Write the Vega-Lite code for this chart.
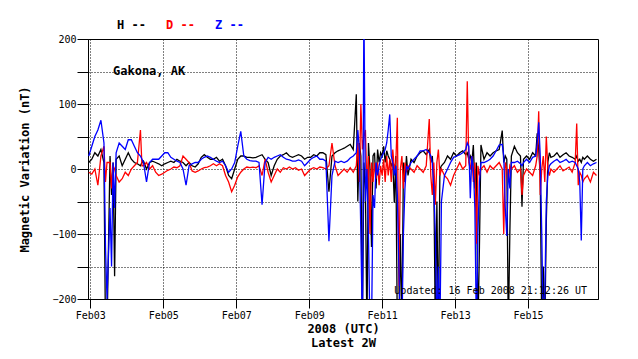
{
  "$schema": "https://vega.github.io/schema/vega-lite/v6.json",
  "width": 510,
  "height": 260,
  "autosize": {"type": "none"},
  "padding": {"left": 88, "top": 39, "right": 40, "bottom": 60},
  "background": "white",
  "config": {"view": {"stroke": "black", "strokeWidth": 1}},
  "title": {"text": "Updated: 16 Feb 2008 21:12:26 UT", "orient": "bottom", "anchor": "end", "frame": "group", "offset": 0, "dx": -11, "dy": -62, "font": "DejaVu Sans Mono", "fontSize": 10, "fontWeight": "normal", "color": "black"},
  "data": {
    "values": [
      {"t":"2008-02-02T23:00:00","H":10,"D":-5,"Z":20},
      {"t":"2008-02-03T01:00:00","H":15,"D":-8,"Z":35},
      {"t":"2008-02-03T03:00:00","H":25,"D":0,"Z":50},
      {"t":"2008-02-03T05:00:00","H":20,"D":-25,"Z":60},
      {"t":"2008-02-03T07:00:00","H":30,"D":20,"Z":75},
      {"t":"2008-02-03T09:00:00","H":10,"D":35,"Z":40},
      {"t":"2008-02-03T10:00:00","H":-250,"D":-20,"Z":-120},
      {"t":"2008-02-03T11:00:00","H":-250,"D":10,"Z":-200},
      {"t":"2008-02-03T13:00:00","H":20,"D":10,"Z":-60},
      {"t":"2008-02-03T14:00:00","H":-40,"D":-30,"Z":-150},
      {"t":"2008-02-03T15:00:00","H":10,"D":5,"Z":10},
      {"t":"2008-02-03T16:00:00","H":-165,"D":0,"Z":-60},
      {"t":"2008-02-03T17:00:00","H":15,"D":-10,"Z":25},
      {"t":"2008-02-03T19:00:00","H":20,"D":-20,"Z":40},
      {"t":"2008-02-03T21:00:00","H":5,"D":-15,"Z":35},
      {"t":"2008-02-03T23:00:00","H":15,"D":-5,"Z":30},
      {"t":"2008-02-04T01:00:00","H":25,"D":-10,"Z":45},
      {"t":"2008-02-04T03:00:00","H":15,"D":0,"Z":45},
      {"t":"2008-02-04T05:00:00","H":10,"D":5,"Z":35},
      {"t":"2008-02-04T07:00:00","H":8,"D":10,"Z":25},
      {"t":"2008-02-04T09:00:00","H":5,"D":60,"Z":20},
      {"t":"2008-02-04T10:00:00","H":10,"D":5,"Z":15},
      {"t":"2008-02-04T11:00:00","H":12,"D":5,"Z":10},
      {"t":"2008-02-04T13:00:00","H":0,"D":10,"Z":-20},
      {"t":"2008-02-04T15:00:00","H":10,"D":0,"Z":10},
      {"t":"2008-02-04T17:00:00","H":12,"D":5,"Z":15},
      {"t":"2008-02-04T19:00:00","H":10,"D":-5,"Z":15},
      {"t":"2008-02-04T21:00:00","H":8,"D":-10,"Z":15},
      {"t":"2008-02-04T23:00:00","H":5,"D":-8,"Z":20},
      {"t":"2008-02-05T01:00:00","H":8,"D":-5,"Z":25},
      {"t":"2008-02-05T03:00:00","H":10,"D":-2,"Z":25},
      {"t":"2008-02-05T05:00:00","H":12,"D":0,"Z":18},
      {"t":"2008-02-05T07:00:00","H":10,"D":3,"Z":15},
      {"t":"2008-02-05T09:00:00","H":15,"D":2,"Z":12},
      {"t":"2008-02-05T11:00:00","H":12,"D":5,"Z":10},
      {"t":"2008-02-05T13:00:00","H":10,"D":20,"Z":0},
      {"t":"2008-02-05T15:00:00","H":5,"D":15,"Z":-25},
      {"t":"2008-02-05T17:00:00","H":10,"D":10,"Z":5},
      {"t":"2008-02-05T19:00:00","H":5,"D":-3,"Z":8},
      {"t":"2008-02-05T21:00:00","H":3,"D":-5,"Z":10},
      {"t":"2008-02-05T23:00:00","H":8,"D":-3,"Z":10},
      {"t":"2008-02-06T01:00:00","H":18,"D":0,"Z":15},
      {"t":"2008-02-06T03:00:00","H":22,"D":2,"Z":18},
      {"t":"2008-02-06T05:00:00","H":18,"D":3,"Z":20},
      {"t":"2008-02-06T07:00:00","H":15,"D":5,"Z":18},
      {"t":"2008-02-06T09:00:00","H":15,"D":8,"Z":15},
      {"t":"2008-02-06T11:00:00","H":18,"D":5,"Z":12},
      {"t":"2008-02-06T13:00:00","H":12,"D":8,"Z":10},
      {"t":"2008-02-06T15:00:00","H":15,"D":5,"Z":12},
      {"t":"2008-02-06T17:00:00","H":5,"D":-10,"Z":5},
      {"t":"2008-02-06T19:00:00","H":-10,"D":-20,"Z":-5},
      {"t":"2008-02-06T21:00:00","H":-15,"D":-35,"Z":0},
      {"t":"2008-02-06T23:00:00","H":0,"D":-25,"Z":10},
      {"t":"2008-02-07T01:00:00","H":15,"D":-12,"Z":35},
      {"t":"2008-02-07T03:00:00","H":20,"D":-5,"Z":58},
      {"t":"2008-02-07T05:00:00","H":20,"D":0,"Z":20},
      {"t":"2008-02-07T07:00:00","H":18,"D":3,"Z":15},
      {"t":"2008-02-07T09:00:00","H":18,"D":2,"Z":13},
      {"t":"2008-02-07T11:00:00","H":17,"D":3,"Z":12},
      {"t":"2008-02-07T13:00:00","H":18,"D":2,"Z":12},
      {"t":"2008-02-07T15:00:00","H":20,"D":5,"Z":10},
      {"t":"2008-02-07T17:00:00","H":22,"D":-10,"Z":-55},
      {"t":"2008-02-07T19:00:00","H":15,"D":15,"Z":10},
      {"t":"2008-02-07T21:00:00","H":10,"D":-5,"Z":18},
      {"t":"2008-02-07T23:00:00","H":-10,"D":-20,"Z":15},
      {"t":"2008-02-08T01:00:00","H":5,"D":-10,"Z":18},
      {"t":"2008-02-08T03:00:00","H":15,"D":0,"Z":20},
      {"t":"2008-02-08T05:00:00","H":20,"D":-5,"Z":22},
      {"t":"2008-02-08T07:00:00","H":22,"D":2,"Z":18},
      {"t":"2008-02-08T09:00:00","H":25,"D":0,"Z":15},
      {"t":"2008-02-08T11:00:00","H":20,"D":3,"Z":14},
      {"t":"2008-02-08T13:00:00","H":18,"D":0,"Z":12},
      {"t":"2008-02-08T15:00:00","H":20,"D":2,"Z":12},
      {"t":"2008-02-08T17:00:00","H":22,"D":-2,"Z":14},
      {"t":"2008-02-08T19:00:00","H":20,"D":0,"Z":12},
      {"t":"2008-02-08T21:00:00","H":15,"D":-10,"Z":5},
      {"t":"2008-02-08T23:00:00","H":18,"D":-5,"Z":10},
      {"t":"2008-02-09T01:00:00","H":18,"D":0,"Z":15},
      {"t":"2008-02-09T03:00:00","H":22,"D":2,"Z":18},
      {"t":"2008-02-09T05:00:00","H":20,"D":0,"Z":20},
      {"t":"2008-02-09T07:00:00","H":25,"D":3,"Z":15},
      {"t":"2008-02-09T09:00:00","H":25,"D":2,"Z":15},
      {"t":"2008-02-09T11:00:00","H":22,"D":0,"Z":12},
      {"t":"2008-02-09T13:00:00","H":-35,"D":5,"Z":-111},
      {"t":"2008-02-09T15:00:00","H":20,"D":40,"Z":-10},
      {"t":"2008-02-09T17:00:00","H":25,"D":5,"Z":12},
      {"t":"2008-02-09T19:00:00","H":28,"D":-10,"Z":10},
      {"t":"2008-02-09T21:00:00","H":30,"D":-5,"Z":12},
      {"t":"2008-02-09T23:00:00","H":32,"D":0,"Z":10},
      {"t":"2008-02-10T01:00:00","H":35,"D":-5,"Z":12},
      {"t":"2008-02-10T03:00:00","H":38,"D":2,"Z":17},
      {"t":"2008-02-10T05:00:00","H":30,"D":-5,"Z":20},
      {"t":"2008-02-10T07:00:00","H":115,"D":5,"Z":25},
      {"t":"2008-02-10T08:00:00","H":-50,"D":40,"Z":60},
      {"t":"2008-02-10T09:00:00","H":40,"D":-20,"Z":30},
      {"t":"2008-02-10T10:00:00","H":20,"D":100,"Z":-100},
      {"t":"2008-02-10T11:00:00","H":-250,"D":30,"Z":-250},
      {"t":"2008-02-10T12:00:00","H":10,"D":50,"Z":250},
      {"t":"2008-02-10T13:00:00","H":-30,"D":60,"Z":-50},
      {"t":"2008-02-10T14:00:00","H":-250,"D":-30,"Z":0},
      {"t":"2008-02-10T15:00:00","H":40,"D":20,"Z":-100},
      {"t":"2008-02-10T16:00:00","H":0,"D":-100,"Z":-250},
      {"t":"2008-02-10T17:00:00","H":-120,"D":10,"Z":-250},
      {"t":"2008-02-10T18:00:00","H":20,"D":-20,"Z":-40},
      {"t":"2008-02-10T19:00:00","H":25,"D":10,"Z":-60},
      {"t":"2008-02-10T20:00:00","H":-30,"D":-15,"Z":10},
      {"t":"2008-02-10T21:00:00","H":30,"D":10,"Z":-10},
      {"t":"2008-02-10T22:00:00","H":10,"D":-25,"Z":5},
      {"t":"2008-02-10T23:00:00","H":25,"D":5,"Z":15},
      {"t":"2008-02-11T00:00:00","H":20,"D":-10,"Z":20},
      {"t":"2008-02-11T01:00:00","H":35,"D":15,"Z":25},
      {"t":"2008-02-11T02:00:00","H":10,"D":-20,"Z":30},
      {"t":"2008-02-11T03:00:00","H":28,"D":20,"Z":40},
      {"t":"2008-02-11T04:00:00","H":20,"D":-10,"Z":60},
      {"t":"2008-02-11T05:00:00","H":15,"D":15,"Z":84},
      {"t":"2008-02-11T06:00:00","H":5,"D":-20,"Z":20},
      {"t":"2008-02-11T07:00:00","H":10,"D":30,"Z":10},
      {"t":"2008-02-11T08:00:00","H":-52,"D":0,"Z":-10},
      {"t":"2008-02-11T09:00:00","H":20,"D":10,"Z":5},
      {"t":"2008-02-11T10:00:00","H":-250,"D":79,"Z":-40},
      {"t":"2008-02-11T11:00:00","H":-250,"D":-180,"Z":-150},
      {"t":"2008-02-11T12:00:00","H":-100,"D":0,"Z":-250},
      {"t":"2008-02-11T13:00:00","H":-250,"D":20,"Z":-250},
      {"t":"2008-02-11T14:00:00","H":10,"D":-30,"Z":-100},
      {"t":"2008-02-11T15:00:00","H":-20,"D":10,"Z":-30},
      {"t":"2008-02-11T16:00:00","H":20,"D":-5,"Z":5},
      {"t":"2008-02-11T17:00:00","H":-10,"D":5,"Z":0},
      {"t":"2008-02-11T19:00:00","H":15,"D":0,"Z":10},
      {"t":"2008-02-11T21:00:00","H":10,"D":-5,"Z":15},
      {"t":"2008-02-11T23:00:00","H":20,"D":5,"Z":20},
      {"t":"2008-02-12T01:00:00","H":25,"D":0,"Z":28},
      {"t":"2008-02-12T03:00:00","H":28,"D":-5,"Z":28},
      {"t":"2008-02-12T05:00:00","H":22,"D":5,"Z":30},
      {"t":"2008-02-12T07:00:00","H":30,"D":77,"Z":25},
      {"t":"2008-02-12T08:00:00","H":10,"D":-10,"Z":20},
      {"t":"2008-02-12T09:00:00","H":20,"D":-40,"Z":10},
      {"t":"2008-02-12T10:00:00","H":-20,"D":10,"Z":-30},
      {"t":"2008-02-12T11:00:00","H":-250,"D":-55,"Z":-100},
      {"t":"2008-02-12T12:00:00","H":-50,"D":10,"Z":-250},
      {"t":"2008-02-12T13:00:00","H":-250,"D":30,"Z":-150},
      {"t":"2008-02-12T14:00:00","H":0,"D":-10,"Z":-250},
      {"t":"2008-02-12T15:00:00","H":5,"D":0,"Z":-50},
      {"t":"2008-02-12T17:00:00","H":10,"D":-10,"Z":-10},
      {"t":"2008-02-12T19:00:00","H":20,"D":-15,"Z":0},
      {"t":"2008-02-12T21:00:00","H":15,"D":-25,"Z":10},
      {"t":"2008-02-12T23:00:00","H":25,"D":-10,"Z":18},
      {"t":"2008-02-13T01:00:00","H":20,"D":0,"Z":20},
      {"t":"2008-02-13T03:00:00","H":25,"D":10,"Z":22},
      {"t":"2008-02-13T05:00:00","H":28,"D":0,"Z":25},
      {"t":"2008-02-13T07:00:00","H":22,"D":5,"Z":30},
      {"t":"2008-02-13T08:00:00","H":25,"D":135,"Z":40},
      {"t":"2008-02-13T09:00:00","H":15,"D":10,"Z":35},
      {"t":"2008-02-13T10:00:00","H":20,"D":0,"Z":-45},
      {"t":"2008-02-13T11:00:00","H":10,"D":20,"Z":20},
      {"t":"2008-02-13T12:00:00","H":37,"D":-20,"Z":0},
      {"t":"2008-02-13T13:00:00","H":-30,"D":10,"Z":-60},
      {"t":"2008-02-13T14:00:00","H":10,"D":-115,"Z":-250},
      {"t":"2008-02-13T15:00:00","H":-250,"D":5,"Z":-100},
      {"t":"2008-02-13T16:00:00","H":-120,"D":-10,"Z":-20},
      {"t":"2008-02-13T17:00:00","H":37,"D":0,"Z":10},
      {"t":"2008-02-13T19:00:00","H":15,"D":5,"Z":10},
      {"t":"2008-02-13T21:00:00","H":25,"D":-5,"Z":12},
      {"t":"2008-02-13T23:00:00","H":20,"D":5,"Z":15},
      {"t":"2008-02-14T01:00:00","H":25,"D":0,"Z":20},
      {"t":"2008-02-14T03:00:00","H":28,"D":5,"Z":28},
      {"t":"2008-02-14T05:00:00","H":30,"D":10,"Z":37},
      {"t":"2008-02-14T07:00:00","H":59,"D":0,"Z":38},
      {"t":"2008-02-14T08:00:00","H":10,"D":-100,"Z":20},
      {"t":"2008-02-14T09:00:00","H":20,"D":10,"Z":-60},
      {"t":"2008-02-14T10:00:00","H":15,"D":0,"Z":-103},
      {"t":"2008-02-14T11:00:00","H":-250,"D":-20,"Z":0},
      {"t":"2008-02-14T12:00:00","H":-100,"D":5,"Z":-30},
      {"t":"2008-02-14T13:00:00","H":20,"D":0,"Z":10},
      {"t":"2008-02-14T15:00:00","H":35,"D":5,"Z":10},
      {"t":"2008-02-14T17:00:00","H":25,"D":-5,"Z":12},
      {"t":"2008-02-14T19:00:00","H":20,"D":0,"Z":8},
      {"t":"2008-02-14T20:00:00","H":-58,"D":-40,"Z":5},
      {"t":"2008-02-14T21:00:00","H":15,"D":-10,"Z":10},
      {"t":"2008-02-14T23:00:00","H":20,"D":0,"Z":15},
      {"t":"2008-02-15T01:00:00","H":15,"D":-5,"Z":10},
      {"t":"2008-02-15T03:00:00","H":25,"D":-10,"Z":18},
      {"t":"2008-02-15T05:00:00","H":20,"D":5,"Z":20},
      {"t":"2008-02-15T06:00:00","H":55,"D":20,"Z":40},
      {"t":"2008-02-15T07:00:00","H":30,"D":89,"Z":72},
      {"t":"2008-02-15T08:00:00","H":-10,"D":-40,"Z":20},
      {"t":"2008-02-15T09:00:00","H":-250,"D":0,"Z":-100},
      {"t":"2008-02-15T10:00:00","H":-150,"D":20,"Z":-250},
      {"t":"2008-02-15T11:00:00","H":-250,"D":-20,"Z":-200},
      {"t":"2008-02-15T12:00:00","H":-80,"D":50,"Z":-50},
      {"t":"2008-02-15T13:00:00","H":10,"D":0,"Z":-10},
      {"t":"2008-02-15T14:00:00","H":25,"D":-10,"Z":5},
      {"t":"2008-02-15T15:00:00","H":18,"D":0,"Z":8},
      {"t":"2008-02-15T17:00:00","H":20,"D":-5,"Z":12},
      {"t":"2008-02-15T19:00:00","H":25,"D":0,"Z":15},
      {"t":"2008-02-15T21:00:00","H":18,"D":5,"Z":10},
      {"t":"2008-02-15T23:00:00","H":22,"D":-3,"Z":12},
      {"t":"2008-02-16T01:00:00","H":25,"D":0,"Z":15},
      {"t":"2008-02-16T03:00:00","H":20,"D":3,"Z":10},
      {"t":"2008-02-16T05:00:00","H":18,"D":-5,"Z":12},
      {"t":"2008-02-16T07:00:00","H":15,"D":10,"Z":10},
      {"t":"2008-02-16T08:00:00","H":20,"D":70,"Z":5},
      {"t":"2008-02-16T09:00:00","H":12,"D":-25,"Z":0},
      {"t":"2008-02-16T10:00:00","H":15,"D":-5,"Z":-20},
      {"t":"2008-02-16T11:00:00","H":10,"D":-10,"Z":-110},
      {"t":"2008-02-16T12:00:00","H":18,"D":-20,"Z":0},
      {"t":"2008-02-16T13:00:00","H":15,"D":-15,"Z":5},
      {"t":"2008-02-16T15:00:00","H":20,"D":-10,"Z":10},
      {"t":"2008-02-16T17:00:00","H":15,"D":-20,"Z":5},
      {"t":"2008-02-16T19:00:00","H":12,"D":-5,"Z":8},
      {"t":"2008-02-16T21:00:00","H":15,"D":-10,"Z":10}
    ]
  },
  "transform": [{"fold": ["H", "D", "Z"], "as": ["comp", "val"]}],
  "mark": {"type": "line", "strokeWidth": 1.3, "clip": true},
  "encoding": {
    "x": {
      "field": "t",
      "type": "temporal",
      "scale": {"domain": [{"year": 2008, "month": 2, "date": 2, "hours": 22, "minutes": 30}, {"year": 2008, "month": 2, "date": 16, "hours": 22}]},
      "axis": {
        "tickCount": {"interval": "day", "step": 2},
        "format": "%b%d",
        "labelFlush": false,
        "labelFont": "DejaVu Sans Mono",
        "labelFontSize": 10,
        "labelColor": "black",
        "tickSize": 9,
        "tickColor": "black",
        "domainColor": "black",
        "gridColor": "black",
        "gridDash": [1, 2],
        "gridOpacity": 1,
        "title": ["2008 (UTC)", "Latest 2W"],
        "titleFont": "DejaVu Sans Mono",
        "titleFontSize": 12,
        "titleFontWeight": "bold",
        "titleColor": "black",
        "titlePadding": 3
      }
    },
    "y": {
      "field": "val",
      "type": "quantitative",
      "scale": {"domain": [-200, 200], "nice": false},
      "axis": {
        "values": [-200, -150, -100, -50, 0, 50, 100, 150, 200],
        "labelExpr": "datum.value % 100 == 0 ? datum.label : ''",
        "labelFont": "DejaVu Sans Mono",
        "labelFontSize": 10,
        "labelColor": "black",
        "labelPadding": 1,
        "tickSize": 11,
        "tickColor": "black",
        "domainColor": "black",
        "gridColor": "black",
        "gridDash": [1, 2],
        "gridOpacity": 1,
        "title": "Magnetic Variation (nT)",
        "titleFont": "DejaVu Sans Mono",
        "titleFontSize": 12,
        "titleFontWeight": "bold",
        "titleColor": "black",
        "titlePadding": 20
      }
    },
    "color": {
      "field": "comp",
      "type": "nominal",
      "scale": {"domain": ["H", "D", "Z"], "range": ["#000000", "#ff0000", "#0000ff"]},
      "legend": {
        "orient": "none",
        "legendX": 25,
        "legendY": -20,
        "direction": "horizontal",
        "title": "Gakona, AK",
        "titleOrient": "bottom",
        "titleAnchor": "start",
        "titlePadding": 35,
        "titleFont": "DejaVu Sans Mono",
        "titleFontSize": 12,
        "titleFontWeight": "bold",
        "titleColor": "black",
        "symbolSize": 1,
        "symbolOpacity": 0,
        "labelOffset": -8,
        "columnPadding": 16,
        "labelFont": "DejaVu Sans Mono",
        "labelFontSize": 12,
        "labelFontWeight": "bold",
        "labelExpr": "datum.label + ' --'",
        "encode": {"labels": {"update": {"fill": {"scale": "color", "field": "value"}}}}
      }
    }
  }
}
